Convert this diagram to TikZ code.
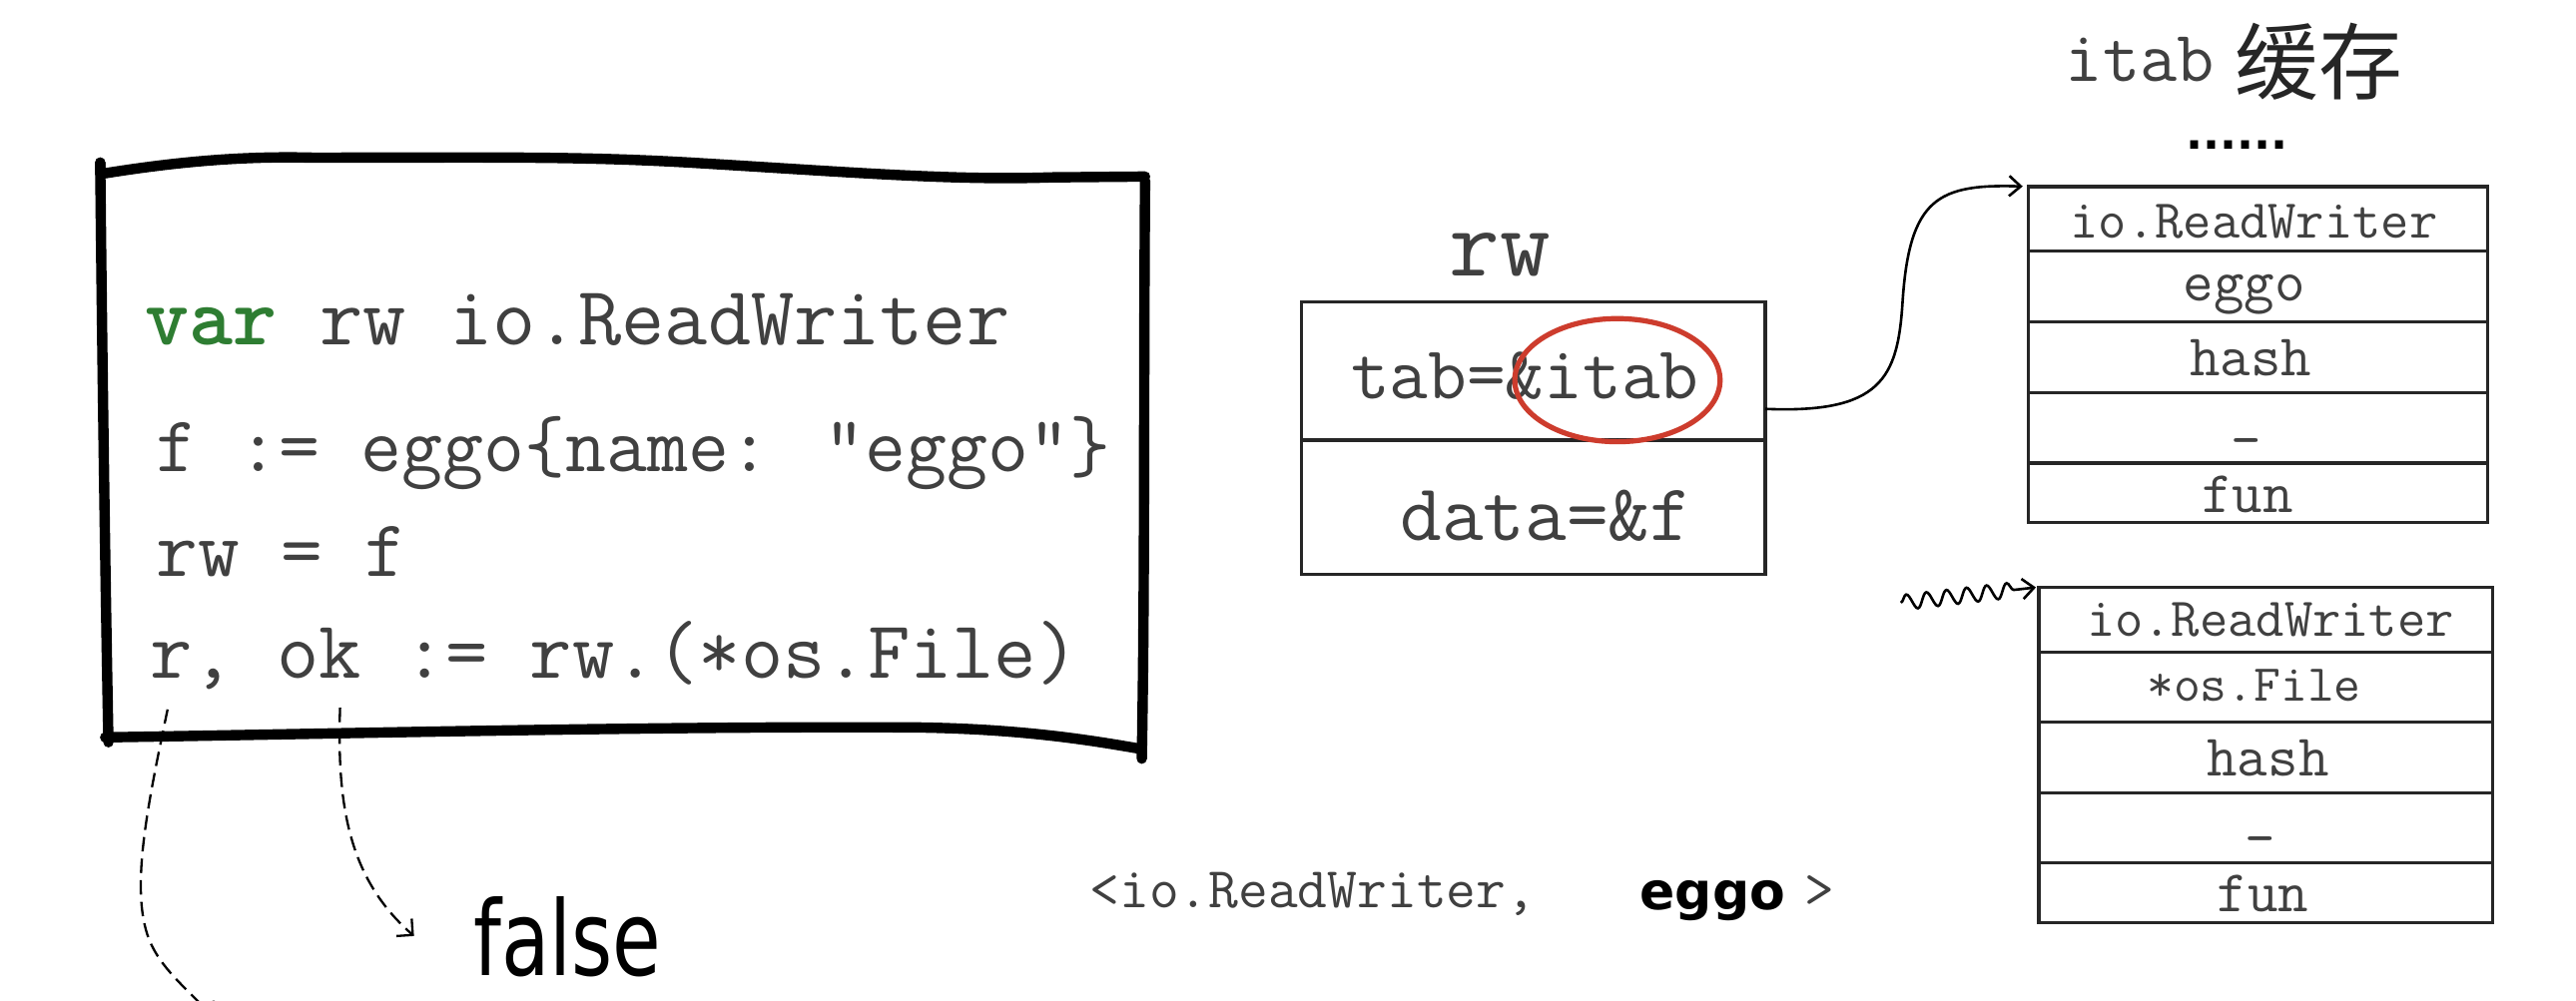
\documentclass[tikz,border=0pt]{standalone}
\usepackage{fontspec}
\usepackage{graphicx}
\newfontfamily\cjk{Noto Sans CJK SC}
\newfontfamily\djv{DejaVu Sans}
\usetikzlibrary{arrows.meta,decorations.pathmorphing,shapes.geometric}
\definecolor{codegray}{gray}{0.25}
\definecolor{vargreen}{RGB}{46,125,50}
\definecolor{circred}{RGB}{205,60,45}
\tikzset{
  code/.style={anchor=base west, inner sep=0pt, text=codegray},
  celltext/.style={anchor=base, inner sep=0pt, text=codegray, font=\ttfamily\fontsize{20.5}{22}\selectfont},
  tabline/.style={line width=1.1pt, draw=black!85},
  handbox/.style={line width=3.6pt, line cap=round, line join=round, draw=black},
  dasharrow/.style={line width=0.8pt, dash pattern=on 5pt off 2.5pt, -{Straight Barb[length=4pt,width=8pt]}},
  thinarrow/.style={line width=0.9pt, -{Straight Barb[length=4pt,width=7pt]}},
}
\begin{document}
\begin{tikzpicture}[x=0.02cm,y=-0.02cm]
\fill[white] (0,0) rectangle (1568,609);
\useasboundingbox (0,0) rectangle (1568,609);

% ---- code box (hand drawn) ----
\draw[handbox] (61,99) -- (61,106) .. controls (110,98) and (150,95) .. (190,96)
   .. controls (300,96) and (350,95) .. (420,99)
   .. controls (520,105) and (580,110) .. (640,108) -- (697,107.5);
\draw[handbox] (697,110) .. controls (696,250) and (697,350) .. (695,462);
\draw[handbox] (64,449) .. controls (200,447) and (400,442) .. (560,443)
   .. controls (620,444) and (660,450) .. (694,456);
\draw[handbox] (61,99) .. controls (62,200) and (64,350) .. (66,452);

\node[code, font=\ttfamily\fontsize{29}{31}\selectfont] (l1) at (88,210) {\textcolor{vargreen}{\bfseries var} rw io.ReadWriter};
\node[code, font=\ttfamily\fontsize{27.5}{30}\selectfont] (l2) at (95,287) {f := eggo\{name: "eggo"\}};
\node[code, font=\ttfamily\fontsize{28}{30}\selectfont] (l3) at (95,351) {rw = f};
\node[code, font=\ttfamily\fontsize{28.4}{30}\selectfont] (l4) at (91,413) {r, ok := rw.(*os.File)};

% ---- dashed arrows ----
\coordinate (rstart) at (102,432);
\coordinate (rend) at (130,620);
\coordinate (okstart) at (207,431);
\coordinate (okend) at (252,570);
\draw[dasharrow] (rstart) .. controls (90,490) and (78,545) .. (92,575)
   .. controls (100,592) and (116,604) .. (rend);
\draw[dasharrow] (okstart) .. controls (205,490) and (212,535) .. (okend);

\node[anchor=base west, inner sep=0pt, font=\djv\fontsize{36}{38}\selectfont] (false) at (288,594) {\scalebox{0.76}[1]{false}};

% ---- rw interface value ----
\node[anchor=base west, inner sep=0pt, text=codegray, font=\ttfamily\fontsize{34}{36}\selectfont] (rwlabel) at (882,168) {rw};
\coordinate (rwnw) at (792,184);
\coordinate (rwse) at (1074.5,350);
\draw[tabline] (rwnw) rectangle (rwse);
\draw[tabline] (792,268) -- (1074.5,268);
\node[anchor=base west, inner sep=0pt, text=codegray, font=\ttfamily\fontsize{26}{28}\selectfont] (tab) at (822,243) {tab=\&itab};
\node[anchor=base west, inner sep=0pt, text=codegray, font=\ttfamily\fontsize{28}{30}\selectfont] (data) at (852,329) {data=\&f};
\node[draw=circred, line width=1.8pt, ellipse, minimum width=2.5cm, minimum height=1.5cm, inner sep=0pt] (circ) at (984.5,231.5) {};

% ---- itab cache title ----
\node[anchor=base west, inner sep=0pt, text=codegray, font=\ttfamily\fontsize{25}{27}\selectfont] (itabtitle) at (1257,49.5) {itab};
\node[anchor=base west, inner sep=0pt, text=black!85, font=\cjk\fontsize{29}{31}\selectfont] (cache) at (1360,57) {缓存};
\node[inner sep=0pt, font=\djv\bfseries\fontsize{15.5}{16}\selectfont] (dots) at (1361.5,88) {......};

% ---- itab table 1 ----
\coordinate (t1nw) at (1234.7,113.6);
\coordinate (t1se) at (1514,318);
\draw[tabline] (t1nw) rectangle (t1se);
\foreach \yy in {153,196,239,282} \draw[tabline] (1234.7,\yy) -- (1514,\yy);
\node[celltext, font=\ttfamily\fontsize{19}{21}\selectfont] (t1a) at (1372,144.7) {io.ReadWriter};
\node[celltext] (t1b) at (1366,183) {eggo};
\node[celltext] (t1c) at (1370,229) {hash};
\node[celltext] (t1d) at (1367,262) {\_};
\node[celltext] (t1e) at (1368,312) {fun};

% ---- itab table 2 ----
\coordinate (t2nw) at (1241,357.7);
\coordinate (t2se) at (1517,562);
\draw[tabline] (t2nw) rectangle (t2se);
\foreach \yy in {397.3,439.8,483,525.4} \draw[tabline] (1241,\yy) -- (1517,\yy);
\node[celltext, font=\ttfamily\fontsize{19}{21}\selectfont] (t2a) at (1382,387.6) {io.ReadWriter};
\node[celltext, font=\ttfamily\fontsize{18}{20}\selectfont] (t2b) at (1372,427) {*os.File};
\node[celltext] (t2c) at (1380.5,472.5) {hash};
\node[celltext] (t2d) at (1376,505) {\_};
\node[celltext] (t2e) at (1377.5,555) {fun};

% ---- connectors ----
\coordinate (tabout) at (1074.5,249);
\draw[thinarrow, shorten >=2pt] (tabout) .. controls (1145,252) and (1155,230) .. (1158,185)
   .. controls (1162,120) and (1180,112) .. (t1nw);
\coordinate (wstart) at (1157,367);
\draw[thinarrow, decorate, decoration={snake, amplitude=2.6pt, segment length=7pt, post length=5pt}] (wstart) -- ([xshift=-1pt]t2nw);

% ---- bottom tuple ----
\node[anchor=base west, inner sep=0pt, text=codegray, font=\ttfamily\fontsize{20}{22}\selectfont] (tuple) at (663,553) {<io.ReadWriter,};
\node[anchor=base west, inner sep=0pt, font=\djv\bfseries\fontsize{18}{20}\selectfont] (eggo) at (998,554) {eggo};
\node[anchor=base west, inner sep=0pt, text=codegray, font=\ttfamily\fontsize{20}{22}\selectfont] (close) at (1098,553) {>};
\end{tikzpicture}
\end{document}
